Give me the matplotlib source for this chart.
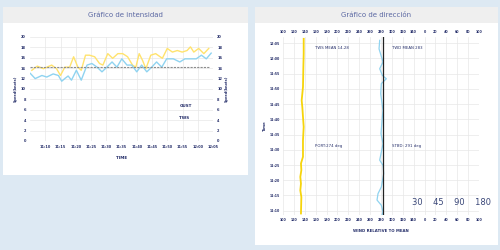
import numpy as np
import matplotlib.pyplot as plt
from matplotlib.patches import Rectangle

## Datos: velocidad (minutos desde 11:05)
gust_t = [0.6, 2.4, 4.4, 7.1, 8.7, 10.0, 11.4, 13.0, 14.3, 15.7, 16.8, 18.2, 19.5, 21.2, 22.8,
          23.9, 25.5, 27.1, 28.8, 30.4, 32.0, 33.6, 34.7, 35.8, 36.9, 38.0, 39.6, 41.2, 43.4,
          45.0, 46.7, 48.3, 49.9, 51.5, 52.6, 53.7, 55.3, 57.0, 58.6]
gust_v = [13.6, 14.4, 13.9, 14.6, 13.9, 12.6, 14.2, 14.2, 16.2, 14.2, 13.6, 16.5, 16.5, 16.2,
          14.9, 14.6, 16.8, 15.9, 16.8, 16.8, 16.2, 14.6, 14.2, 16.8, 15.5, 13.9, 16.5, 16.8,
          15.9, 17.8, 17.1, 17.4, 17.1, 17.4, 18.1, 17.1, 17.8, 16.8, 17.8]
tws_t = [0.1, 1.7, 3.9, 5.5, 7.6, 9.3, 10.4, 11.4, 12.5, 13.6, 15.2, 16.8, 18.7, 20.3, 22.0,
         23.6, 25.2, 26.9, 28.5, 30.1, 31.8, 33.4, 35.0, 36.6, 38.3, 39.9, 41.5, 43.2, 44.8,
         47.0, 49.1, 50.8, 52.9, 54.5, 56.2, 57.8, 59.4]
tws_v = [13.0, 12.0, 12.6, 12.3, 12.9, 12.6, 11.5, 12.0, 12.5, 11.7, 13.6, 11.7, 14.6, 14.9,
         14.2, 13.3, 14.2, 15.2, 14.2, 15.8, 14.6, 14.6, 13.3, 14.6, 13.3, 14.2, 15.2, 14.2,
         15.8, 15.8, 15.2, 15.8, 15.8, 15.8, 16.5, 15.8, 16.9]
tws_mean = 14.28
speed_ticks = list(range(0, 21, 2))
time_ticks = list(range(5, 61, 5))
time_labels = ["11:10", "11:15", "11:20", "11:25", "11:30", "11:35", "11:40", "11:45",
               "11:50", "11:55", "12:00", "12:05"]

## Datos: dirección
dir_ticks = list(range(100, 461, 20))
dir_labels = [str(d % 360) for d in dir_ticks]
twd_mean = 283
port_t = [61.4, 56.5, 52.1, 45.6, 41.2, 39.0, 35.8, 32.5, 28.1, 22.7, 20.5, 18.3, 16.1,
          13.9, 11.7, 9.5, 4.1]
port_d = [138, 138, 137.4, 136.7, 134.3, 135.5, 136.7, 138, 136.7, 136.7, 133, 133.7,
          131.8, 133, 131.8, 133.7, 133]
stbd_t = [60.9, 58.1, 53.8, 51.6, 49.4, 48.3, 46.7, 43.4, 37.9, 35.8, 30.3, 27.0, 21.6,
          19.9, 17.2, 12.8, 10.6, 8.5, 6.8, 4.6, 3.2]
stbd_d = [277.6, 276.4, 283.7, 277.6, 282.5, 289.8, 280.6, 279.4, 283.7, 282.5, 280, 283.7,
          277.6, 283.7, 285, 280.6, 274.5, 272.7, 280.6, 283.7, 281.2]
speed_names = ["GUST", "TWS"]

navy = "#27306b"
grid_c = "#e8e8e8"

fig = plt.figure(figsize=(5, 2.5), dpi=100)
fig.patch.set_facecolor("#dde9f3")

def panel(x0, y0, w, h, titulo):
    fig.patches.append(Rectangle((x0, y0), w, h, transform=fig.transFigure,
                                 facecolor="white", edgecolor="none", zorder=-2))
    fig.patches.append(Rectangle((x0, y0 + h - 0.064), w, 0.064, transform=fig.transFigure,
                                 facecolor="#efefef", edgecolor="none", zorder=-1))
    fig.text(x0 + w / 2, y0 + h - 0.032, titulo, ha="center", va="center",
             fontsize=5, color="#5b68a3")

def negrita(a):
    for t in a.get_xticklabels() + a.get_yticklabels():
        t.set_fontweight("bold")

panel(0.006, 0.30, 0.49, 0.672, "Gráfico de intensidad")
panel(0.51, 0.02, 0.486, 0.952, "Gráfico de dirección")

## Intensidad
ax = fig.add_axes([0.06, 0.436, 0.366, 0.416])
ax.patch.set_alpha(0)
ax.plot(gust_t, gust_v, color="#ffe36e", lw=1.0)
ax.plot(tws_t, tws_v, color="#8fd3f0", lw=1.0)
ax.plot([0, 59], [tws_mean, tws_mean], color="#8c8c8c", lw=0.8, ls=(0, (2, 1)))
ax.set_xlim(0, 60)
ax.set_ylim(0, 20)
ax.set_yticks(speed_ticks)
ax.set_xticks(time_ticks)
ax.set_xticklabels(time_labels)
ax.grid(True, color=grid_c, lw=0.5)
ax.set_axisbelow(True)
for s in ax.spines.values():
    s.set_visible(False)
ax.tick_params(length=0, labelsize=2.5, colors=navy, pad=3)
negrita(ax)
ax.set_xlabel("TIME", fontsize=3, color=navy, fontweight="bold", labelpad=5)
ax.set_ylabel("Speed(knots)", fontsize=2.5, color=navy, fontweight="bold", labelpad=2)
ax.text(49, 6.6, speed_names[0], fontsize=3, color=navy, fontweight="bold")
ax.text(48.7, 4.2, speed_names[1], fontsize=3, color=navy, fontweight="bold")
ax2 = ax.twinx()
ax2.set_ylim(0, 20)
ax2.set_yticks(speed_ticks)
for s in ax2.spines.values():
    s.set_visible(False)
ax2.tick_params(length=0, labelsize=2.5, colors=navy, pad=3)
negrita(ax2)
ax2.set_ylabel("Speed(knots)", fontsize=2.5, color=navy, fontweight="bold", labelpad=2)

## Dirección
bx = fig.add_axes([0.566, 0.14, 0.392, 0.712])
bx.patch.set_alpha(0)
bx.plot(port_d, port_t, color="#f6d40c", lw=1.3)
bx.plot(stbd_d, stbd_t, color="#8fd3f0", lw=0.9)
bx.axvline(twd_mean, color="#222222", lw=0.9)
bx.set_xlim(100, 460)
bx.set_ylim(3.6, 62)
bx.set_xticks(dir_ticks)
bx.set_xticklabels(dir_labels)
bx.set_yticks(time_ticks)
bx.set_yticklabels(time_labels)
bx.grid(True, color=grid_c, lw=0.5)
bx.set_axisbelow(True)
for s in bx.spines.values():
    s.set_visible(False)
bx.tick_params(length=0, labelsize=2.3, colors=navy, pad=2,
               top=True, labeltop=True)
negrita(bx)
bx.set_xlabel("WIND RELATIVE TO MEAN", fontsize=2.8, color=navy, fontweight="bold", labelpad=5)
bx.set_ylabel("Time", fontsize=2.8, color=navy, fontweight="bold", labelpad=2)
bx.text(158, 58.5, "TWS MEAN 14.28", fontsize=2.8, color=navy, va="center")
bx.text(300, 58.5, "TWD MEAN 283", fontsize=2.8, color=navy, va="center")
bx.text(158, 26.1, "PORT:274 deg", fontsize=2.8, color=navy, va="center")
bx.text(300, 26.1, "STBD: 291 deg", fontsize=2.8, color=navy, va="center")
bx.text(337, 7.8, "30    45    90    180", fontsize=6, color="#3a4778", ha="left", va="center")

fig.savefig("out.png", dpi=100, facecolor=fig.get_facecolor())
